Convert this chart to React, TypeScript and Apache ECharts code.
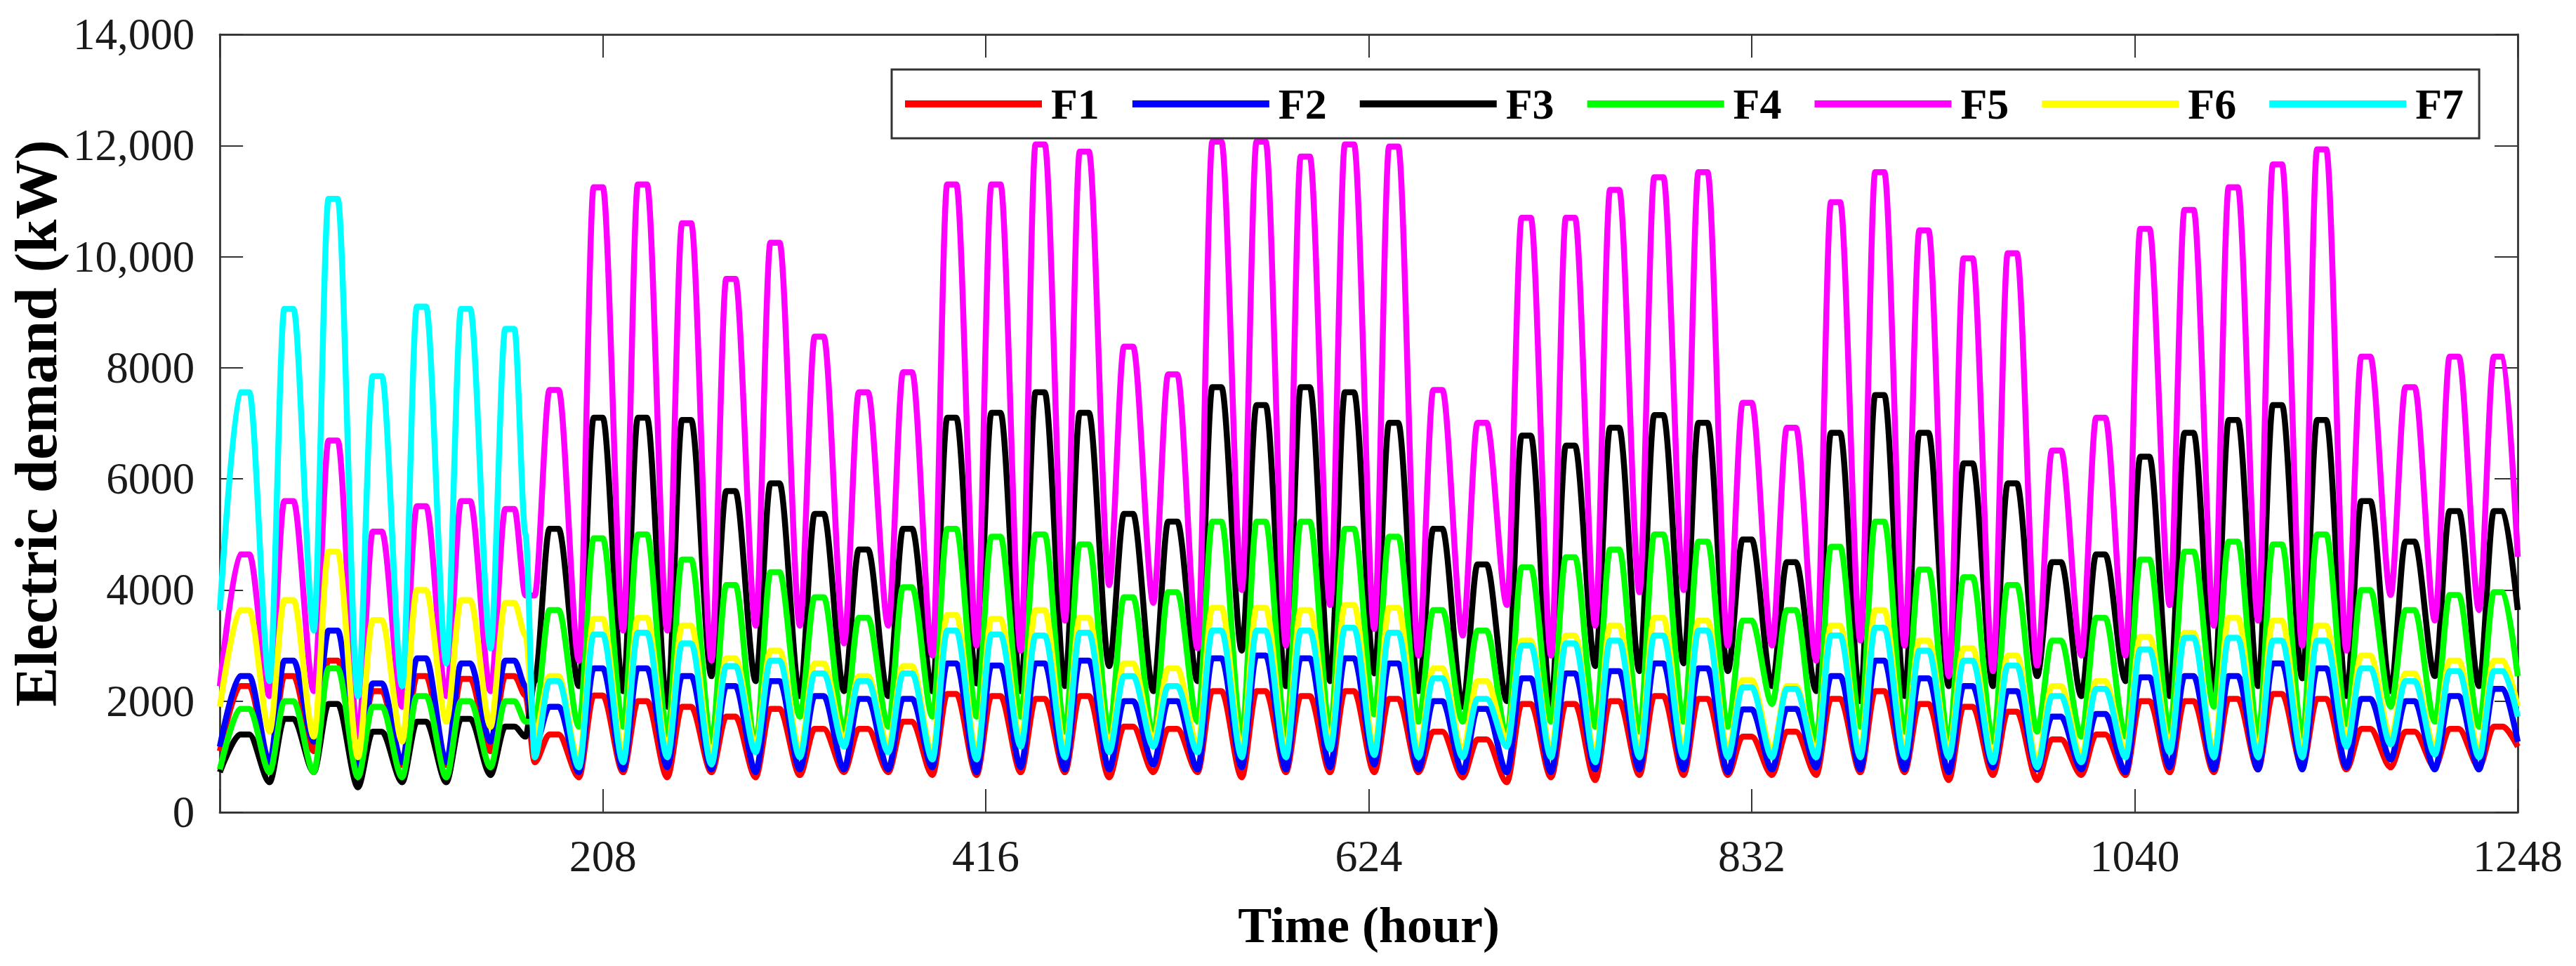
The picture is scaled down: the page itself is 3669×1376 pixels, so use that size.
import React, { useEffect, useRef } from 'react';
import * as echarts from 'echarts';

// series labels and colours
const seriesNames = ['F1', 'F2', 'F3', 'F4', 'F5', 'F6', 'F7'];
const seriesColors = ['#ff0000', '#0000ff', '#000000', '#00ff00', '#ff00ff', '#ffff00', '#00ffff'];

// tick labels
const xTickLabels = ['', '208', '416', '624', '832', '1040', '1248'];
const yTickLabels = ['0', '2000', '4000', '6000', '8000', '10,000', '12,000', '14,000'];

// daily profile: hour of the night low, start / end of the day high, end of the first week
const TROUGH_HOUR = 3;
const PEAK_START = 11;
const PEAK_END = 16;
const SWITCH_HOUR = 166;
const END_HOUR = 1248;

// daily peaks (52 days) and daily lows (52 days), kW
const f1Peaks = [
  2270, 2450, 2730, 2180, 2450, 2400, 2450,
  1400, 2100, 2000, 1900, 1720, 1860, 1500, 1500, 1630, 2130,
  2090, 2040, 2090, 1540, 1500, 2180, 2180, 2090, 2180,
  2040, 1450, 1310, 1950, 1950, 2000, 2090, 2040, 1360,
  1450, 2040, 2180, 1950, 1900, 1810, 1310, 1400, 2000,
  2000, 2040, 2130, 2040, 1500, 1450, 1500, 1540,
];
const f1Troughs = [
  1100, 850, 1100, 800, 850, 850, 1100,
  900, 630, 720, 630, 720, 630, 670, 720, 720, 670,
  670, 720, 720, 630, 720, 720, 630, 720, 720,
  720, 720, 630, 540, 630, 580, 670, 670, 670,
  670, 670, 720, 720, 580, 670, 580, 670, 670,
  720, 720, 770, 810, 770, 810, 810, 810,
];

const f2Peaks = [
  2450, 2730, 3270, 2320, 2770, 2680, 2730,
  1900, 2590, 2590, 2450, 2270, 2360, 2090, 2040, 2040, 2680,
  2640, 2680, 2730, 2000, 2000, 2770, 2820, 2770, 2770,
  2680, 2000, 1860, 2410, 2500, 2540, 2680, 2590, 1850,
  1860, 2450, 2730, 2410, 2270, 2180, 1720, 1770, 2430,
  2450, 2450, 2680, 2590, 2040, 2000, 2090, 2220,
];
const f2Troughs = [
  1180, 900, 1270, 810, 900, 900, 1270,
  1180, 720, 770, 810, 770, 720, 770, 770, 770, 810,
  720, 810, 770, 770, 860, 770, 810, 770, 810,
  860, 770, 720, 720, 720, 770, 770, 770, 720,
  770, 810, 770, 770, 720, 810, 770, 770, 720,
  810, 770, 770, 770, 810, 950, 770, 770,
];

const f3Peaks = [
  1400, 1680, 1950, 1450, 1630, 1680, 1540,
  5100, 7100, 7100, 7060, 5780, 5920, 5370, 4730, 5100, 7100,
  7190, 7560, 7190, 5370, 5230, 7650, 7330, 7650, 7560,
  7010, 5100, 4460, 6780, 6600, 6920, 7150, 7010, 4910,
  4500, 6830, 7510, 6830, 6280, 5920, 4500, 4640, 6400,
  6830, 7060, 7330, 7060, 5600, 4870, 5420, 5420,
];
const f3Troughs = [
  720, 540, 720, 450, 540, 540, 670,
  2360, 2270, 2180, 1900, 2450, 2360, 2090, 2180, 2090, 2180,
  2320, 2180, 2270, 2630, 2180, 2360, 2910, 2270, 2360,
  2500, 2180, 1900, 2000, 1900, 2630, 2540, 2680, 2540,
  2270, 2180, 2000, 2090, 2270, 2270, 2450, 2090, 2360,
  2090, 2180, 2270, 2410, 2090, 2180, 2450, 2270,
];

const f4Peaks = [
  1860, 2000, 2590, 1900, 2090, 2000, 2000,
  3640, 4930, 5000, 4550, 4090, 4320, 3870, 3500, 4050, 5100,
  4960, 5000, 4820, 3870, 3960, 5230, 5230, 5230, 5100,
  4960, 3640, 3270, 4410, 4590, 4730, 5000, 4870, 3450,
  3640, 4780, 5230, 4370, 4230, 4090, 3090, 3500, 4550,
  4690, 4870, 4820, 5000, 4000, 3640, 3910, 3960,
];
const f4Troughs = [
  770, 720, 720, 630, 630, 630, 810,
  1630, 1540, 1540, 1400, 1270, 1180, 1720, 1450, 1540, 1720,
  1720, 1720, 1450, 1450, 1360, 1630, 1360, 1360, 1450,
  1760, 1630, 1630, 1360, 1630, 1540, 1450, 1630, 1540,
  1950, 1270, 1540, 1450, 1270, 1270, 1450, 1360, 1360,
  1450, 1900, 1360, 1360, 1590, 1900, 1630, 1540,
];

const f5Peaks = [
  4640, 5600, 6690, 5050, 5510, 5600, 5460,
  7600, 11250, 11300, 10600, 9600, 10250, 8560, 7560, 7920, 11300,
  11300, 12020, 11890, 8380, 7880, 12070, 12070, 11800, 12020,
  11980, 7600, 7010, 10700, 10700, 11200, 11430, 11520, 7370,
  6920, 10980, 11520, 10470, 9970, 10060, 6510, 7100, 10500,
  10840, 11250, 11660, 11930, 8200, 7650, 8200, 8200,
];
const f5Troughs = [
  2270, 2090, 2180, 1360, 1900, 2090, 2180,
  3900, 2730, 3270, 3270, 2730, 3360, 3360, 3040, 3360, 2820,
  3000, 2910, 3450, 4090, 3770, 2950, 4000, 3000, 3730,
  3300, 2820, 3180, 3730, 2820, 3360, 3960, 4000, 3000,
  3000, 2730, 3090, 3000, 2450, 2540, 2640, 2820, 2820,
  3730, 3360, 3450, 3000, 2910, 3910, 3450, 3640,
];

const f6Peaks = [
  3640, 3820, 4690, 3460, 4000, 3820, 3770,
  2450, 3480, 3500, 3360, 2770, 2910, 2680, 2450, 2630, 3550,
  3480, 3640, 3500, 2680, 2590, 3680, 3680, 3640, 3730,
  3680, 2590, 2360, 3090, 3180, 3360, 3500, 3450, 2380,
  2270, 3360, 3640, 3090, 2950, 2820, 2270, 2360, 3160,
  3230, 3500, 3450, 3360, 2820, 2500, 2730, 2730,
];
const f6Troughs = [
  1900, 1450, 1360, 990, 1270, 1630, 1540,
  1360, 900, 1050, 1100, 1000, 1200, 1100, 1300, 1200, 1050,
  1050, 1300, 1100, 1200, 1300, 1200, 1100, 1100, 1250,
  1150, 1100, 1100, 1300, 1100, 1000, 1100, 1100, 1100,
  1100, 1100, 1100, 1100, 1100, 1000, 900, 1000, 1100,
  1200, 1100, 1100, 1100, 1300, 1350, 1150, 1100,
];

const f7Peaks = [
  7560, 9060, 11040, 7850, 9100, 9060, 8700,
  2360, 3200, 3230, 3040, 2630, 2730, 2500, 2360, 2500, 3270,
  3200, 3180, 3230, 2450, 2270, 3270, 3270, 3270, 3320,
  3230, 2410, 2040, 3000, 3040, 3090, 3180, 3270, 2250,
  2220, 3180, 3320, 2910, 2730, 2640, 2090, 2220, 2930,
  3140, 3140, 3090, 3090, 2590, 2360, 2540, 2540,
];
const f7Troughs = [
  3640, 2360, 3270, 2090, 2270, 2680, 2950,
  990, 810, 900, 990, 860, 1080, 990, 1180, 1080, 950,
  950, 1180, 990, 1080, 1180, 1080, 990, 990, 1130,
  1030, 990, 990, 1180, 990, 900, 990, 990, 990,
  990, 990, 990, 990, 990, 900, 810, 900, 990,
  1080, 990, 990, 990, 1180, 1220, 1040, 990,
];

// value just before the first-week block ends, and the last value
const switchValues = [2100, 2270, 1360, 1630, 3900, 3180, 5000];
const endValues = [1180, 1270, 3640, 2450, 4600, 1900, 1720];

const allPeaks = [f1Peaks, f2Peaks, f3Peaks, f4Peaks, f5Peaks, f6Peaks, f7Peaks];
const allTroughs = [f1Troughs, f2Troughs, f3Troughs, f4Troughs, f5Troughs, f6Troughs, f7Troughs];

const FONT = '"Liberation Serif", "Times New Roman", serif';

function buildPoints(i: number): number[][] {
  const peaks = allPeaks[i];
  const troughs = allTroughs[i];
  const pts: number[][] = [];
  for (let d = 0; d < peaks.length; d++) {
    const t = d * 24;
    if (t + TROUGH_HOUR > SWITCH_HOUR && pts[pts.length - 1][0] < SWITCH_HOUR) {
      pts.push([SWITCH_HOUR, switchValues[i]]);
    }
    pts.push([d === 0 ? 0 : t + TROUGH_HOUR, troughs[d]]);
    pts.push([t + PEAK_START, peaks[d]]);
    pts.push([t + PEAK_END, peaks[d]]);
  }
  pts.push([END_HOUR, endValues[i]]);
  return pts;
}

const App: React.FC = () => {
  const chartRef = useRef<HTMLDivElement>(null);

  useEffect(() => {
    if (!chartRef.current) return;
    document.body.style.margin = '0';
    const chart = echarts.init(chartRef.current, undefined, { renderer: 'svg' });

    const frameColor = '#404040';
    const titleStyle = { fontFamily: FONT, fontWeight: 'bold', color: '#000' };
    const frameLine = () => ({ show: true, onZero: false, lineStyle: { color: frameColor, width: 3 } });
    const innerTick = () => ({ show: true, inside: true, length: 33, lineStyle: { color: '#333', width: 2 } });

    chart.setOption({
      animation: false,
      backgroundColor: '#fff',
      grid: { left: 311, right: 83, top: 49, bottom: 219, containLabel: false },
      legend: {
        left: 1270,
        top: 99,
        orient: 'horizontal',
        data: seriesNames,
        icon: 'rect',
        itemWidth: 195,
        itemHeight: 10,
        itemGap: 47,
        padding: [18, 22, 18, 19],
        borderColor: '#333',
        borderWidth: 3,
        backgroundColor: '#fff',
        textStyle: {
          fontFamily: FONT,
          fontWeight: 'bold',
          fontSize: 62,
          color: '#000',
          padding: [0, 0, 0, 8],
        },
      },
      xAxis: [
        {
          type: 'value',
          min: 0,
          max: 1248,
          interval: 208,
          position: 'bottom',
          name: 'Time (hour)',
          nameLocation: 'middle',
          nameGap: 125,
          nameTextStyle: { ...titleStyle, fontSize: 72 },
          axisLine: frameLine(),
          axisTick: innerTick(),
          splitLine: { show: false },
          axisLabel: {
            margin: 30,
            fontFamily: FONT,
            fontSize: 64,
            color: '#1a1a1a',
            formatter: (v: number) => xTickLabels[Math.round(v / 208)] ?? '',
          },
        },
        {
          type: 'value',
          min: 0,
          max: 1248,
          interval: 208,
          position: 'top',
          axisLine: frameLine(),
          axisTick: innerTick(),
          axisLabel: { show: false },
          splitLine: { show: false },
        },
      ],
      yAxis: [
        {
          type: 'value',
          min: 0,
          max: 14000,
          interval: 2000,
          position: 'left',
          name: 'Electric demand (kW)',
          nameLocation: 'middle',
          nameGap: 190,
          nameTextStyle: { ...titleStyle, fontSize: 85 },
          axisLine: frameLine(),
          axisTick: innerTick(),
          splitLine: { show: false },
          axisLabel: {
            margin: 36,
            fontFamily: FONT,
            fontSize: 63,
            color: '#1a1a1a',
            formatter: (v: number) => yTickLabels[Math.round(v / 2000)] ?? '',
          },
        },
        {
          type: 'value',
          min: 0,
          max: 14000,
          interval: 2000,
          position: 'right',
          axisLine: frameLine(),
          axisTick: innerTick(),
          axisLabel: { show: false },
          splitLine: { show: false },
        },
      ],
      series: seriesNames.map((name, i) => ({
        name,
        type: 'line',
        xAxisIndex: 0,
        yAxisIndex: 0,
        data: buildPoints(i),
        showSymbol: false,
        symbol: 'none',
        smooth: 0.3,
        smoothMonotone: 'x',
        color: seriesColors[i],
        lineStyle: { color: seriesColors[i], width: 8.5 },
        itemStyle: { color: seriesColors[i] },
      })),
    });

    return () => {
      chart.dispose();
    };
  }, []);

  return <div ref={chartRef} style={{ width: '3669px', height: '1376px' }} />;
};

export default App;
